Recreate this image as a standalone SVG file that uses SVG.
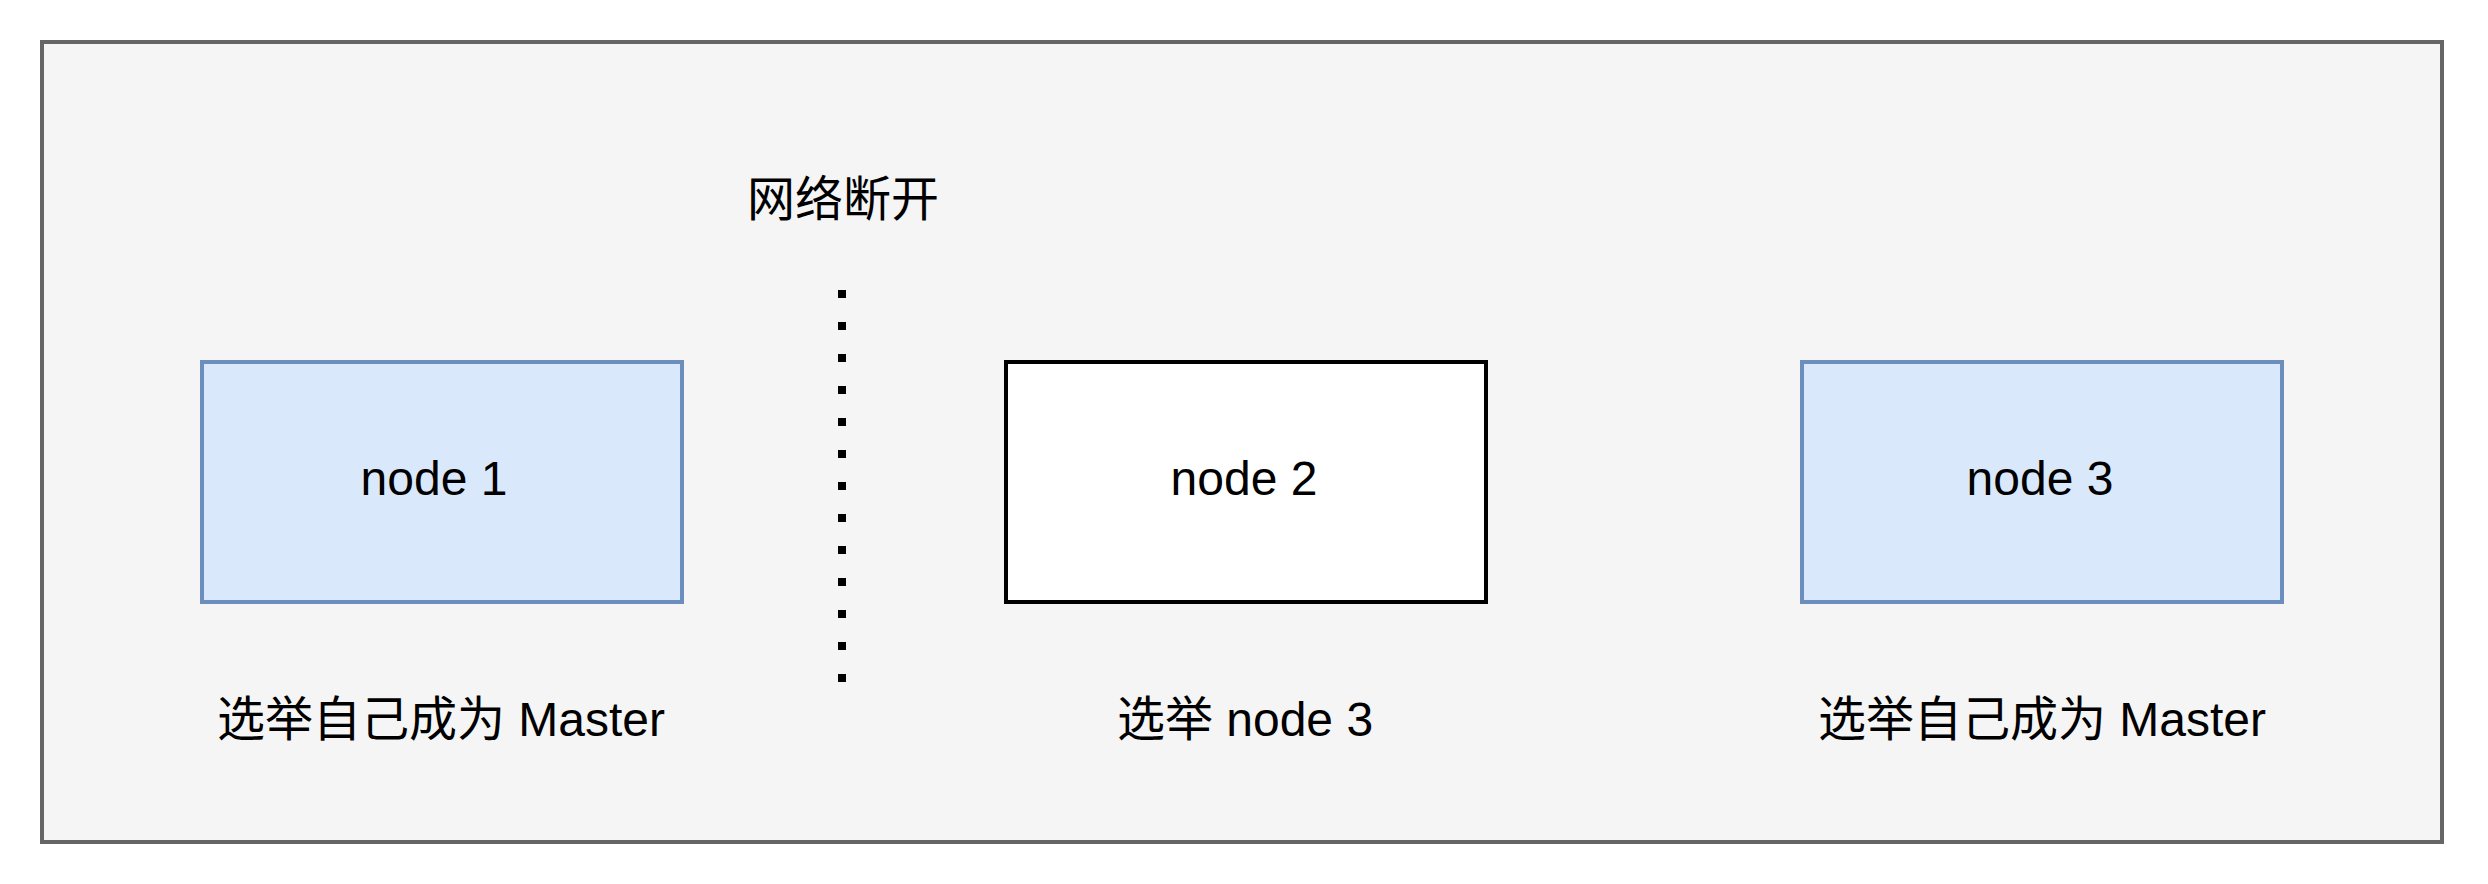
<svg xmlns="http://www.w3.org/2000/svg" width="2488" height="884" viewBox="0 0 2488 884">
<style>
text{font-family:"Liberation Sans","Noto Sans CJK SC",Arial,sans-serif;font-size:48px;fill:#000;text-anchor:middle}
.blue{fill:#dae8fc;stroke:#6c8ebf;stroke-width:4}
.plain{fill:#ffffff;stroke:#000000;stroke-width:4}
</style>
<rect width="2488" height="884" fill="#ffffff"/>
<g id="container">
<rect x="42" y="42" width="2400" height="800" fill="#f5f5f5" stroke="#666666" stroke-width="4"/>
</g>
<g id="connectors">
<line x1="842" y1="290" x2="842" y2="690" stroke="#000" stroke-width="8" stroke-dasharray="8 24"/>
</g>
<g id="label-disconnect">
<text x="843" y="216">网络断开</text>
</g>
<g id="node1">
<rect class="blue" x="202" y="362" width="480" height="240"/>
<text x="434" y="495">node 1</text>
</g>
<g id="node2">
<rect class="plain" x="1006" y="362" width="480" height="240"/>
<text x="1244" y="495">node 2</text>
</g>
<g id="node3">
<rect class="blue" x="1802" y="362" width="480" height="240"/>
<text x="2040" y="495">node 3</text>
</g>
<g id="label1">
<text x="441" y="736">选举自己成为 Master</text>
</g>
<g id="label2">
<text x="1245" y="736">选举 node 3</text>
</g>
<g id="label3">
<text x="2042" y="736">选举自己成为 Master</text>
</g>
</svg>
